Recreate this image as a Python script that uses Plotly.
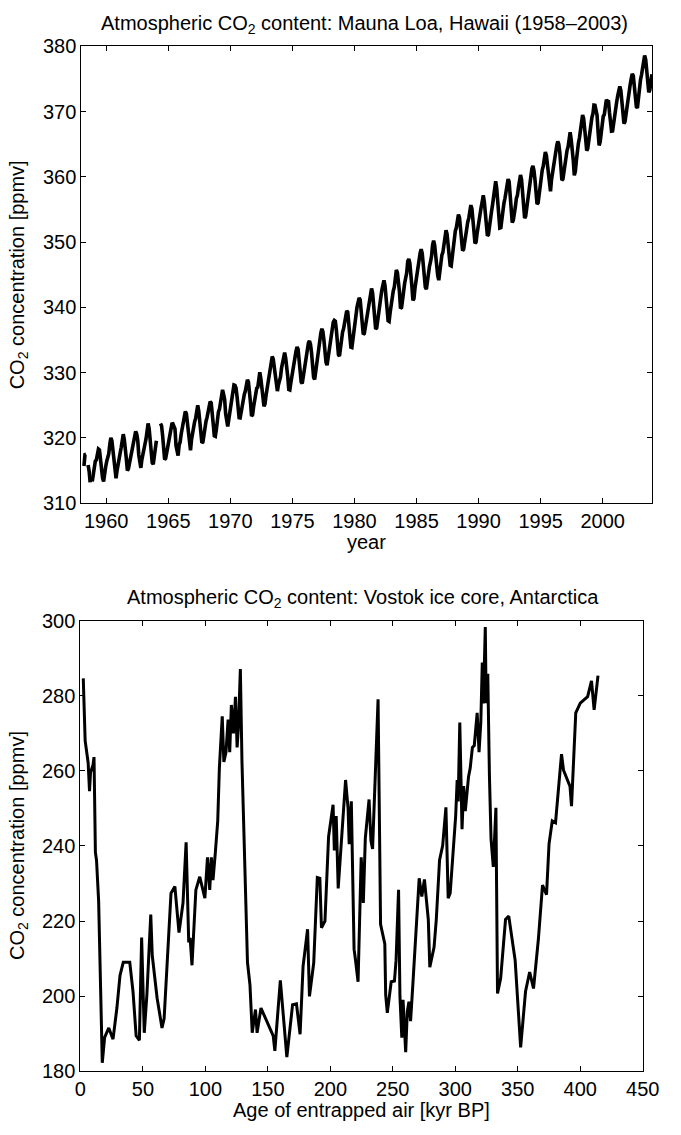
import plotly.graph_objects as go

# ---------------- Mauna Loa monthly CO2 (ppmv), 1958-2003, None = missing ----------------
mlo_start_year = 1958
mlo_co2 = [
    None, None, 315.71, 317.45, 317.50, None, 315.86, 314.93, 313.19, None, 313.34, 314.67,   # 1958
    315.58, 316.47, 316.65, 317.71, 318.29, 318.16, 316.55, 314.80, 313.84, 313.34, 314.81, 315.59,
    316.43, 316.97, 317.58, 319.03, 320.03, 319.59, 318.18, 315.91, 314.16, 313.83, 315.00, 316.19,
    316.89, 317.70, 318.54, 319.48, 320.58, 319.78, 318.58, 316.79, 314.99, 315.31, 316.10, 317.01,
    317.94, 318.56, 319.69, 320.58, 321.01, 320.61, 319.61, 317.40, 316.26, 315.42, 316.69, 317.69,
    318.74, 319.08, 319.86, 321.39, 322.24, 321.47, 319.74, 317.77, 316.21, 315.99, 317.07, 318.36,
    319.57, None, None, None, 322.23, 321.89, 320.44, 318.70, 316.70, 316.87, 317.68, 318.71,         # 1964
    319.44, 320.44, 320.89, 322.13, 322.16, 321.87, 321.39, 318.80, 317.81, 317.30, 318.87, 319.42,
    320.62, 321.59, 322.39, 323.70, 324.07, 323.75, 322.40, 320.37, 318.64, 318.10, 319.79, 321.03,
    322.33, 322.50, 323.04, 324.42, 325.00, 324.09, 322.55, 320.92, 319.26, 319.39, 320.72, 321.96,
    322.57, 323.15, 323.89, 325.02, 325.57, 325.36, 324.14, 322.11, 320.33, 320.25, 321.32, 322.90,
    324.00, 324.42, 325.64, 326.66, 327.38, 326.70, 325.89, 323.67, 322.38, 321.78, 322.85, 324.12,
    325.06, 325.98, 326.93, 328.13, 328.07, 327.66, 326.35, 324.69, 323.10, 323.07, 324.01, 325.13,
    326.17, 326.68, 327.18, 327.78, 328.92, 328.57, 327.37, 325.43, 323.36, 323.56, 324.80, 326.01,
    326.77, 327.63, 327.75, 329.72, 330.07, 329.09, 328.05, 326.32, 324.84, 325.20, 326.50, 327.55,
    328.54, 329.56, 330.30, 331.50, 332.48, 332.07, 330.87, 329.31, 327.51, 327.18, 328.16, 328.64,
    329.35, 330.71, 331.48, 332.65, 333.09, 332.25, 331.18, 329.40, 327.44, 327.37, 328.46, 329.58,
    330.40, 331.41, 332.04, 333.31, 333.96, 333.59, 331.91, 330.06, 328.56, 328.34, 329.49, 330.76,
    331.75, 332.56, 333.50, 334.58, 334.87, 334.34, 333.05, 330.94, 329.30, 328.94, 330.31, 331.68,
    332.93, 333.42, 334.70, 336.07, 336.74, 336.27, 334.93, 332.75, 331.58, 331.16, 332.40, 333.85,
    334.97, 335.39, 336.64, 337.76, 338.01, 337.89, 336.54, 334.68, 332.76, 332.54, 333.92, 334.95,
    336.23, 336.76, 337.96, 338.89, 339.47, 339.29, 337.73, 336.09, 333.91, 333.86, 335.29, 336.73,
    338.01, 338.36, 340.08, 340.77, 341.46, 341.17, 339.56, 337.60, 335.88, 336.01, 337.10, 338.21,
    339.23, 340.47, 341.38, 342.51, 342.91, 342.25, 340.49, 338.43, 336.69, 336.85, 338.36, 339.61,
    340.75, 341.61, 342.70, 343.56, 344.13, 343.35, 342.06, 339.82, 337.97, 337.86, 339.26, 340.49,
    341.38, 342.52, 343.10, 344.94, 345.75, 345.32, 343.99, 342.39, 339.86, 339.99, 341.16, 342.99,
    343.70, 344.51, 345.28, 347.08, 347.43, 346.79, 345.40, 343.28, 341.07, 341.35, 342.98, 344.22,
    344.97, 345.99, 347.42, 348.35, 348.93, 348.25, 346.56, 344.69, 343.09, 342.80, 344.24, 345.56,
    346.29, 346.96, 347.86, 349.55, 350.21, 349.54, 347.94, 345.91, 344.86, 344.17, 345.66, 346.90,
    348.02, 348.47, 349.42, 350.99, 351.84, 351.25, 349.52, 348.10, 346.44, 346.36, 347.81, 348.96,
    350.43, 351.72, 352.22, 353.59, 354.22, 353.79, 352.39, 350.44, 348.72, 348.88, 350.07, 351.34,
    352.76, 353.07, 353.68, 355.42, 355.67, 355.13, 353.90, 351.67, 349.80, 349.99, 351.30, 352.53,
    353.66, 354.70, 355.39, 356.20, 357.16, 356.22, 354.82, 352.91, 350.96, 351.18, 352.83, 354.21,
    354.72, 355.75, 357.16, 358.60, 359.34, 358.24, 356.17, 354.03, 352.16, 352.21, 353.75, 354.99,
    355.98, 356.72, 357.81, 359.15, 359.66, 359.25, 357.03, 355.00, 353.01, 353.31, 354.16, 355.40,
    356.70, 357.16, 358.38, 359.46, 360.28, 359.60, 357.57, 355.52, 353.70, 353.98, 355.33, 356.80,
    358.36, 358.91, 359.97, 361.26, 361.68, 360.95, 359.55, 357.49, 355.84, 356.00, 357.59, 359.05,
    359.98, 361.03, 361.66, 363.48, 363.82, 363.30, 361.94, 359.50, 358.11, 357.80, 359.61, 360.74,
    362.09, 363.29, 364.06, 364.76, 365.45, 365.01, 363.70, 361.54, 359.51, 359.65, 360.80, 362.38,
    363.23, 364.06, 364.61, 366.40, 366.84, 365.68, 364.52, 362.57, 360.24, 360.83, 362.49, 364.34,
    365.18, 365.98, 367.13, 368.61, 369.49, 368.95, 367.74, 365.79, 364.01, 364.35, 365.52, 366.93,
    368.18, 369.07, 369.68, 370.99, 370.96, 370.30, 369.45, 366.90, 364.81, 365.37, 366.72, 368.10,
    369.29, 369.54, 370.60, 371.82, 371.58, 371.70, 369.86, 368.13, 367.00, 367.03, 368.37, 369.67,
    370.59, 371.51, 372.43, 373.37, 373.85, 373.21, 371.51, 369.61, 368.18, 368.45, 369.76, 371.24,
    372.53, 373.20, 374.12, 375.02, 375.76, 375.52, 374.01, 371.85, 370.75, 370.55, 372.25, 373.79,
    374.88, 375.64, 376.45, 377.73, 378.60, 377.96, 376.28, 374.23, 372.94, 373.32, 374.44, 375.71,  # 2003
]

# ---------------- Vostok ice core: gas age (kyr BP) and CO2 (ppmv) ----------------
vostok_age = [
    2.3, 3.6, 3.8, 6.2, 7.3, 8.1, 10.1, 10.9, 11.4, 12.0, 12.9, 14.6, 17.5, 19.4, 22.7, 26.1,
    29.2, 31.7, 34.3, 39.5, 42.1, 44.6, 47.2, 49.0, 51.1, 53.2, 56.3, 57.5, 61.4, 65.3, 67.0,
    72.5, 75.6, 78.9, 82.1, 84.6, 86.7, 87.8, 89.3, 92.4, 95.5, 99.6, 101.7, 103.5, 104.8,
    106.1, 107.9, 109.9, 111.2, 112.3, 113.5, 114.8, 116.5, 118.2, 119.5, 120.8, 122.5, 124.1,
    125.4, 126.5, 128.0, 129.3, 133.7, 135.7, 136.3, 137.5, 140.1, 141.4, 144.5, 147.9, 151.7,
    154.3, 155.6, 160.0, 165.2, 169.8, 172.9, 175.8, 178.2, 181.8, 183.3, 186.7, 189.6, 191.6,
    192.9, 195.7, 198.6, 202.2, 203.2, 204.7, 206.3, 208.2, 212.2, 214.2, 215.1, 216.8, 219.0,
    220.0, 222.2, 224.7, 226.4, 228.0, 231.0, 232.5, 233.8, 238.2, 240.2, 243.6, 244.3, 245.6,
    248.7, 251.3, 252.6, 254.6, 255.7, 257.2, 258.2, 260.3, 261.6, 262.9, 264.2, 266.0, 269.3,
    271.1, 273.2, 275.3, 278.4, 279.6, 283.0, 284.8, 287.4, 289.9, 292.5, 294.3, 295.9, 298.2,
    300.3, 301.5, 302.3, 303.6, 305.4, 306.7, 308.0, 310.6, 311.9, 313.7, 315.2, 317.5, 319.0,
    320.4, 321.6, 322.5, 324.0, 324.7, 326.0, 327.3, 328.6, 330.4, 332.5, 333.8, 336.3, 340.2,
    342.8, 347.9, 352.3, 356.2, 359.5, 362.6, 366.5, 369.8, 373.0, 375.0, 377.6, 380.2, 382.7,
    385.0, 386.6, 391.8, 393.0, 396.4, 400.0, 405.9, 409.0, 411.1, 414.2,
]
vostok_co2 = [
    284.7, 272.8, 268.1, 262.2, 254.6, 259.6, 261.6, 263.7, 244.8, 238.3, 236.2, 225.3, 182.2, 189.0, 191.5, 188.5,
    196.8, 205.5, 209.0, 209.0, 201.2, 189.4, 188.2, 215.6, 190.2, 200.3, 221.7, 210.8, 199.4, 191.5, 194.0,
    227.4, 229.2, 216.9, 224.8, 241.0, 214.3, 215.5, 208.2, 228.3, 231.8, 226.1, 237.0, 228.3, 237.0,
    230.9, 237.9, 246.7, 260.7, 266.3, 274.6, 262.4, 265.0, 273.7, 265.0, 277.6, 270.0, 279.8,
    266.3, 272.0, 287.2, 262.4, 209.0, 202.9, 197.7, 190.2, 196.4, 190.2, 196.8, 194.2, 191.5,
    189.4, 185.4, 204.2, 183.7, 197.7, 197.9, 189.8, 208.0, 217.8, 199.9, 208.8, 231.6, 231.4,
    218.2, 220.0, 242.5, 251.0, 238.8, 248.0, 228.7, 238.8, 257.6, 250.0, 240.5, 251.9, 212.5,
    210.0, 203.8, 237.0, 224.8, 242.1, 252.4, 241.4, 239.2, 279.1, 219.1, 213.9, 200.3, 195.5,
    203.8, 204.0, 209.5, 228.3, 199.9, 188.9, 199.0, 185.0, 195.9, 198.5, 193.3, 202.9, 220.4,
    231.4, 226.5, 231.1, 220.4, 207.7, 213.0, 220.4, 236.2, 240.1, 250.3, 226.1, 227.4, 238.4,
    248.0, 257.6, 251.9, 272.9, 244.5, 256.0, 249.3, 258.5, 260.7, 266.3, 266.8, 275.5, 265.0,
    272.9, 288.9, 278.0, 298.4, 278.1, 285.9, 259.0, 241.9, 234.4, 250.2, 200.7, 204.7, 220.4,
    221.3, 209.5, 186.3, 201.2, 206.4, 202.0, 215.2, 229.6, 227.0, 240.5, 246.7, 246.2, 256.3,
    264.5, 260.2, 255.9, 250.6, 275.5, 278.1, 279.8, 284.0, 276.3, 285.4,
]

top_title = "Atmospheric CO<sub>2</sub> content: Mauna Loa, Hawaii (1958–2003)"
bottom_title = "Atmospheric CO<sub>2</sub> content: Vostok ice core, Antarctica"
y_title = "CO<sub>2</sub> concentration [ppmv]"
top_xlabel = "year"
bottom_xlabel = "Age of entrapped air [kyr BP]"

# ---------------- figure ----------------
W, H = 681, 1135
FONT = "Liberation Sans, Arial, sans-serif"

mlo_time = [mlo_start_year + i // 12 + ((i % 12) + 0.5) / 12 for i in range(len(mlo_co2))]

fig = go.Figure()
fig.add_trace(go.Scatter(x=mlo_time, y=mlo_co2, mode="lines",
                         line=dict(color="black", width=3.6), connectgaps=False,
                         xaxis="x", yaxis="y", showlegend=False, hoverinfo="skip"))
fig.add_trace(go.Scatter(x=vostok_age, y=vostok_co2, mode="lines",
                         line=dict(color="black", width=3), xaxis="x2", yaxis="y2",
                         showlegend=False, hoverinfo="skip"))

def px_dom_x(a, b):
    return [a / W, b / W]

def px_dom_y(top, bottom):
    return [1 - bottom / H, 1 - top / H]

TICK_SIZE = 20
axis_common = dict(showline=True, linecolor="black", linewidth=1.2, mirror="ticks",
                   ticks="inside", ticklen=5, tickwidth=1, tickcolor="black",
                   showgrid=False, zeroline=False,
                   tickfont=dict(family=FONT, size=TICK_SIZE, color="black"))

fig.update_layout(
    width=W, height=H, margin=dict(l=0, r=0, t=0, b=0),
    paper_bgcolor="white", plot_bgcolor="white",
    font=dict(family=FONT, color="black"),
    xaxis=dict(domain=px_dom_x(78, 669), range=[1958, 2004], tickmode="array",
               tickvals=[1960, 1965, 1970, 1975, 1980, 1985, 1990, 1995, 2000], anchor="y",
               **axis_common),
    yaxis=dict(domain=px_dom_y(36, 502), range=[310, 380], tickmode="array",
               tickvals=[310, 320, 330, 340, 350, 360, 370, 380], anchor="x", **axis_common),
    xaxis2=dict(domain=px_dom_x(77, 659), range=[0, 450], tickmode="array",
                tickvals=[0, 50, 100, 150, 200, 250, 300, 350, 400, 450], anchor="y2",
                **axis_common),
    yaxis2=dict(domain=px_dom_y(622, 1081), range=[180, 300], tickmode="array",
                tickvals=[180, 200, 220, 240, 260, 280, 300], anchor="x2",
                **axis_common),
)

def ann(text, x, y, size, angle=0):
    fig.add_annotation(text=text, x=x / W, y=1 - y / H, xref="paper", yref="paper",
                       showarrow=False, xanchor="center", yanchor="middle", textangle=angle,
                       font=dict(family=FONT, size=size, color="black"))

ann(top_title, 371, 14, 20)
ann(bottom_title, 369, 599, 20)
ann(top_xlabel, 373, 541, 20)
ann(bottom_xlabel, 368, 1121, 20)
ann(y_title, 13, 269, 20, -90)
ann(y_title, 13, 851, 20, -90)

fig.write_html("out.html")
